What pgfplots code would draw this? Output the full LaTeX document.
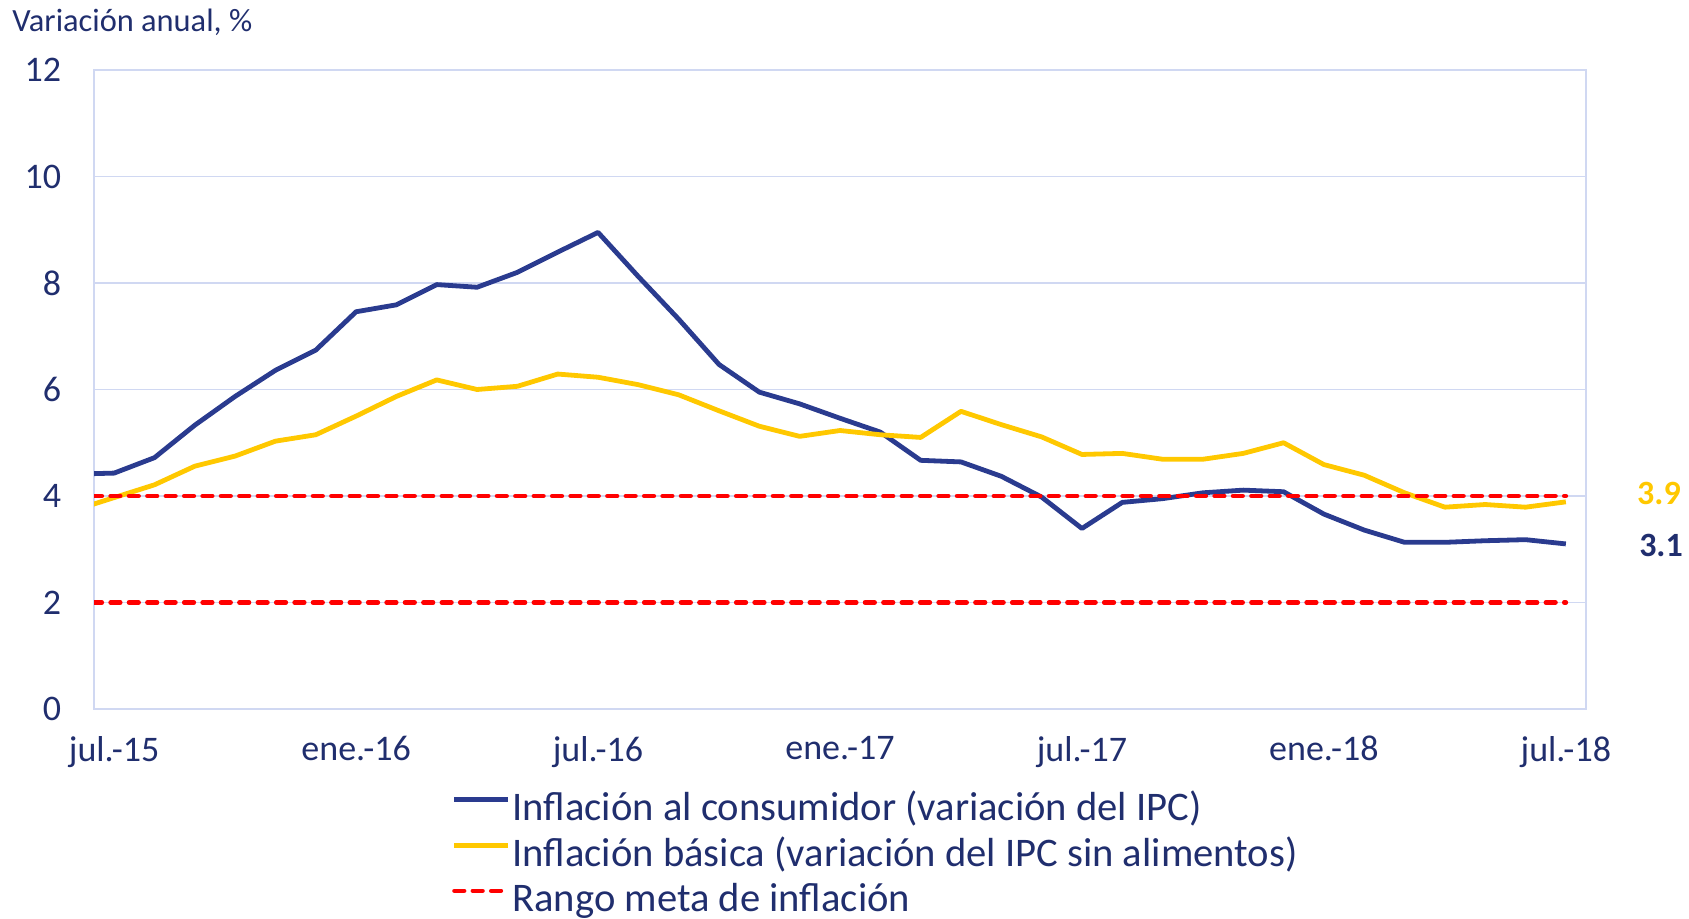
\documentclass[border=0pt]{standalone}
\usepackage{fontspec}
\setmainfont{Carlito}
\usepackage{pgfplots}
\usepackage{pgfplotstable}
\pgfplotsset{compat=1.18}

\definecolor{txt}{RGB}{32,46,110}
\definecolor{ipc}{RGB}{42,59,143}
\definecolor{core}{RGB}{255,200,0}
\definecolor{grd}{RGB}{208,216,242}

% month index: 0 = jul.-15 ... 36 = jul.-18
\pgfplotstableread{
m  ipc   core
-1 4.41  3.73
0  4.43  3.97
1  4.72  4.21
2  5.33  4.56
3  5.87  4.75
4  6.36  5.03
5  6.74  5.15
6  7.46  5.50
7  7.59  5.87
8  7.97  6.18
9  7.92  6.00
10 8.20  6.06
11 8.58  6.29
12 8.95  6.23
13 8.12  6.09
14 7.32  5.90
15 6.47  5.60
16 5.95  5.31
17 5.73  5.12
18 5.46  5.23
19 5.20  5.15
20 4.67  5.10
21 4.64  5.59
22 4.37  5.34
23 3.98  5.11
24 3.39  4.78
25 3.88  4.80
26 3.95  4.69
27 4.06  4.69
28 4.11  4.80
29 4.08  5.00
30 3.66  4.59
31 3.36  4.39
32 3.13  4.06
33 3.13  3.79
34 3.16  3.84
35 3.18  3.79
36 3.10  3.89
}\inflacion

\begin{document}
\begin{tikzpicture}
\begin{axis}[
    scale only axis,
    width=746pt,
    height=319.5pt,
    xmin=-0.5, xmax=36.5,
    ymin=0, ymax=12,
    ytick={0,2,...,12},
    xtick={0,6,...,36},
    xticklabels={jul.-15,ene.-16,jul.-16,ene.-17,jul.-17,ene.-18,jul.-18},
    major tick length=0pt,
    ymajorgrids,
    grid style={grd, line width=0.8pt},
    axis line style={grd, line width=0.8pt},
    /pgf/number format/assume math mode=true,
    tick label style={font=\fontsize{18}{21}\selectfont, text=txt},
    yticklabel style={inner sep=0pt, xshift=-16.3pt},
    xticklabel style={inner sep=0pt, yshift=-13.5pt},
    clip mode=individual,
    legend cell align=left,
    legend style={
        at={(0.24,-0.128)}, anchor=north west,
        draw=none, fill=none, inner sep=0pt, outer sep=0pt,
        row sep=2.75pt, column sep=0.8pt,
        font=\fontsize{20.3}{24}\selectfont, text=txt,
        nodes={inner sep=0pt, text height=15pt, text depth=5pt},
    },
    legend image code/.code={\draw[#1] (0pt,5.5pt) -- (27pt,5.5pt);},
]
\addplot[ipc, line width=2.4pt, line join=round] table[x=m, y=ipc] {\inflacion};
\addlegendentry{Inflación al consumidor (variación del IPC)}
\addplot[core, line width=2.4pt, line join=round] table[x=m, y=core] {\inflacion};
\addlegendentry{Inflación básica (variación del IPC sin alimentos)}
\addplot[red, line width=2.3pt, dash pattern=on 4.8pt off 4.4pt, line cap=round] coordinates {(-1,4) (36,4)};
\addlegendentry{Rango meta de inflación}
\addplot[red, line width=2.3pt, dash pattern=on 4.8pt off 4.4pt, line cap=round, forget plot] coordinates {(-1,2) (36,2)};

\node[font=\fontsize{17}{20}\selectfont\bfseries, text=core] at (axis cs:38.31,4.04) {3.9};
\node[font=\fontsize{17}{20}\selectfont\bfseries, text=txt] at (axis cs:38.36,3.08) {3.1};
\node[anchor=west, inner sep=0pt, font=\fontsize{16.2}{19}\selectfont, text=txt] at (axis description cs:-0.055,1.075) {Variación anual, \%};
\end{axis}
\pgfresetboundingbox
\useasboundingbox (-47pt,-105pt) rectangle (797.5pt,354.5pt);
\end{tikzpicture}
\end{document}
